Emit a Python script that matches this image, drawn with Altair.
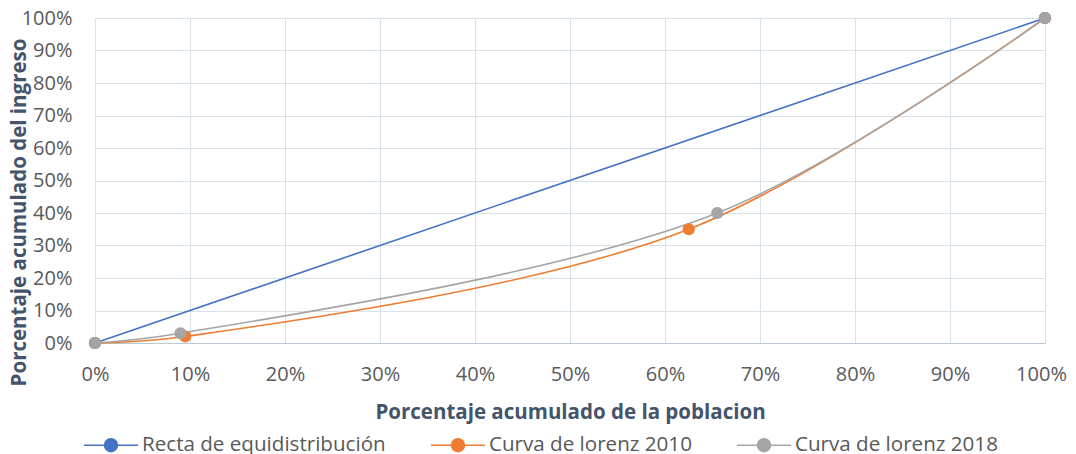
import altair as alt
import pandas as pd

series_names = ["Recta de equidistribución", "Curva de lorenz 2010", "Curva de lorenz 2018"]
series_colors = ["#4472C4", "#ED7D31", "#A5A5A5"]

recta_x = [0, 100]
recta_y = [0, 100]
lorenz2010_x = [0, 9.5, 62.5, 100]
lorenz2010_y = [0, 2, 35, 100]
lorenz2018_x = [0, 9, 65.5, 100]
lorenz2018_y = [0, 3, 40, 100]

x_ticks = [0, 0.1, 0.2, 0.3, 0.4, 0.5, 0.6, 0.7, 0.8, 0.9, 1.0]
y_ticks = [0, 0.1, 0.2, 0.3, 0.4, 0.5, 0.6, 0.7, 0.8, 0.9, 1.0]

rows = []
for name, xs, ys in zip(series_names,
                        [recta_x, lorenz2010_x, lorenz2018_x],
                        [recta_y, lorenz2010_y, lorenz2018_y]):
    for i, (a, b) in enumerate(zip(xs, ys)):
        rows.append({"serie": name, "x": a / 100, "y": b / 100, "orden": i})
df = pd.DataFrame(rows)

TEXT = "#595959"
TITLE = "#44546A"
GRID = "#D9E1EA"
FONT = "Open Sans"

color_scale = alt.Scale(domain=series_names, range=series_colors)

color = alt.Color(
    "serie:N",
    scale=color_scale,
    sort=series_names,
    legend=alt.Legend(
        title=None,
        orient="none",
        direction="horizontal",
        legendX=-12,
        legendY=399,
        symbolType="M-1,0H1M-0.24,0A0.24,0.24,0,1,1,0.24,0A0.24,0.24,0,1,1,-0.24,0Z",
        symbolSize=2916,
        symbolStrokeWidth=1.5,
        labelFont=FONT,
        labelFontSize=20.6,
        labelColor=TEXT,
        columnPadding=42,
        labelOffset=3,
        labelLimit=400,
    ),
)

x_enc = alt.X(
    "x:Q",
    scale=alt.Scale(domain=[0, 1], nice=False),
    axis=alt.Axis(
        values=x_ticks,
        format=".0%",
        labelOverlap=False,
        labelFlush=False,
        labelOffset=alt.condition("datum.value >= 1", alt.value(-4), alt.value(0)),
        domain=True,
        domainColor="#BCC8D6",
        domainWidth=1,
        title="Porcentaje acumulado de la poblacion",
        titleX=475,
        titleY=69,
        titleBaseline="middle",
    ),
)
y_enc = alt.Y(
    "y:Q",
    scale=alt.Scale(domain=[0, 1], nice=False),
    axis=alt.Axis(
        values=y_ticks,
        format=".0%",
        labelOverlap=False,
        labelFlush=False,
        title="Porcentaje acumulado del ingreso",
        titleX=-76,
        titleY=194,
        titleAngle=-90,
        titleBaseline="middle",
    ),
)

base = alt.Chart(df)

lines = base.mark_line(interpolate="catmull-rom", strokeWidth=1.6).encode(
    x=x_enc, y=y_enc, color=color, order="orden:Q",
    detail="serie:N",
)
points = base.mark_circle(size=150, opacity=1).encode(
    x=x_enc, y=y_enc,
    color=alt.Color("serie:N", scale=color_scale, legend=None),
)

layers = []
for name in series_names:
    layers.append(lines.transform_filter(alt.datum.serie == name))
for name in series_names:
    layers.append(points.transform_filter(alt.datum.serie == name))

chart = alt.layer(*layers).properties(
    width=950,
    height=325,
    autosize=alt.AutoSizeParams(type="none"),
    padding={"left": 87, "top": 10, "right": 23, "bottom": 111},
).configure_view(
    stroke=None
).configure_axis(
    domain=False,
    ticks=False,
    grid=True,
    gridColor=GRID,
    gridWidth=1,
    labelFont=FONT,
    labelFontSize=20,
    labelColor=TEXT,
    titleFont=FONT,
    titleFontSize=20.5,
    titleFontWeight="bold",
    titleColor=TITLE,
).configure_axisX(
    labelPadding=21,
).configure_axisY(
    labelPadding=23,
)

chart.save("out.html", embed_options={"renderer": "svg", "actions": False})
